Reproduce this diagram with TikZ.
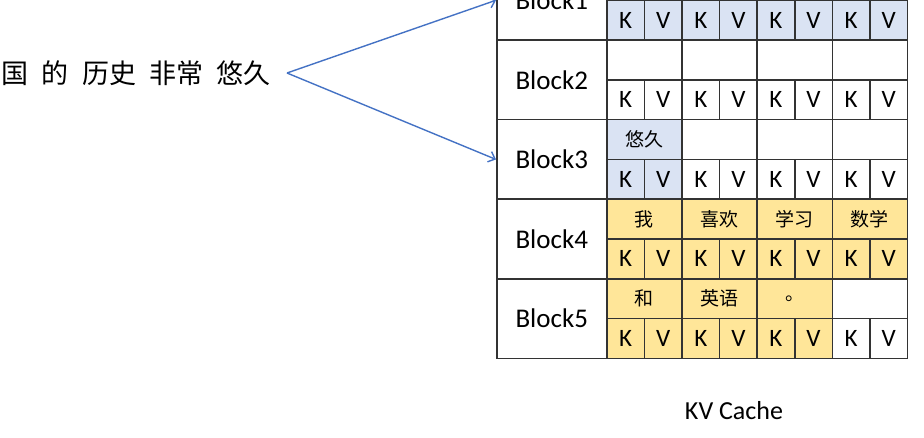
\documentclass[tikz,border=0pt]{standalone}
\usepackage{fontspec}
\setmainfont{Carlito}
\newfontfamily\cjk[WordSpace=2.2]{Noto Sans CJK SC}
\usetikzlibrary{arrows.meta}

\definecolor{gridgray}{HTML}{333333}
\definecolor{kvblue}{HTML}{DAE3F3}
\definecolor{kvyellow}{HTML}{FFE699}
\definecolor{arrowblue}{HTML}{4472C4}

\tikzset{
  blockcell/.style={draw=gridgray, line width=1.5pt, anchor=north west, inner sep=0pt,
    minimum width=110pt, minimum height=79.6pt, font=\fontsize{27}{30}\selectfont},
  tokcell/.style={draw=gridgray, line width=1.5pt, anchor=north west, inner sep=0pt,
    minimum width=75.2pt, minimum height=39.8pt, font=\cjk\fontsize{19}{22}\selectfont},
  kvcell/.style={draw=gridgray, line width=1.5pt, anchor=north west, inner sep=0pt,
    minimum width=37.6pt, minimum height=39.8pt, font=\fontsize{25}{28}\selectfont},
  pointer/.style={draw=arrowblue, line width=1.4pt, -{Straight Barb[length=6pt,width=11pt]}}
}

\begin{document}
\begin{tikzpicture}[x=1pt, y=-1pt]
  \useasboundingbox (0,0) rectangle (924,438);

  % 左边的句子
  \node[anchor=east, inner xsep=16pt, inner ysep=0pt, font=\cjk\fontsize{27}{30}\selectfont]
    (sent) at (287,73) {国 的 历史 非常 悠久};

  % Block1 ~ Block5, 每个 block 四个 token, 每个 token 一对 K V
  \foreach \i/\kvfill/\n/\words in {1/kvblue/4/{{},{},{},{}},
                                    2/white/0/{{},{},{},{}},
                                    3/kvblue/1/{悠久,{},{},{}},
                                    4/kvyellow/4/{我,喜欢,学习,数学},
                                    5/kvyellow/3/{和,英语,。,{}}} {
    \pgfmathsetmacro\ytop{79.6*(\i-1)-40.3}
    \node[blockcell] (b\i) at (496,\ytop) {Block\i};
    \foreach \w [count=\j] in \words {
      \pgfmathsetmacro\xl{606+75.2*(\j-1)}
      \ifnum\j>\n \def\cf{white}\else \edef\cf{\kvfill}\fi
      \node[tokcell, fill=\cf] (t\i\j) at (\xl,\ytop) {\w};
      \node[kvcell, fill=\cf] (k\i\j) at (\xl,\ytop+39.8) {K};
      \node[kvcell, fill=\cf] (v\i\j) at (\xl+37.6,\ytop+39.8) {V};
    }
  }

  % 指向 Block1 和 Block3
  \draw[pointer] (sent.east) -- (b1.west);
  \draw[pointer] (sent.east) -- (b3.west);

  \node[font=\fontsize{26}{30}\selectfont] (cap) at (734,411) {KV Cache};
\end{tikzpicture}
\end{document}
